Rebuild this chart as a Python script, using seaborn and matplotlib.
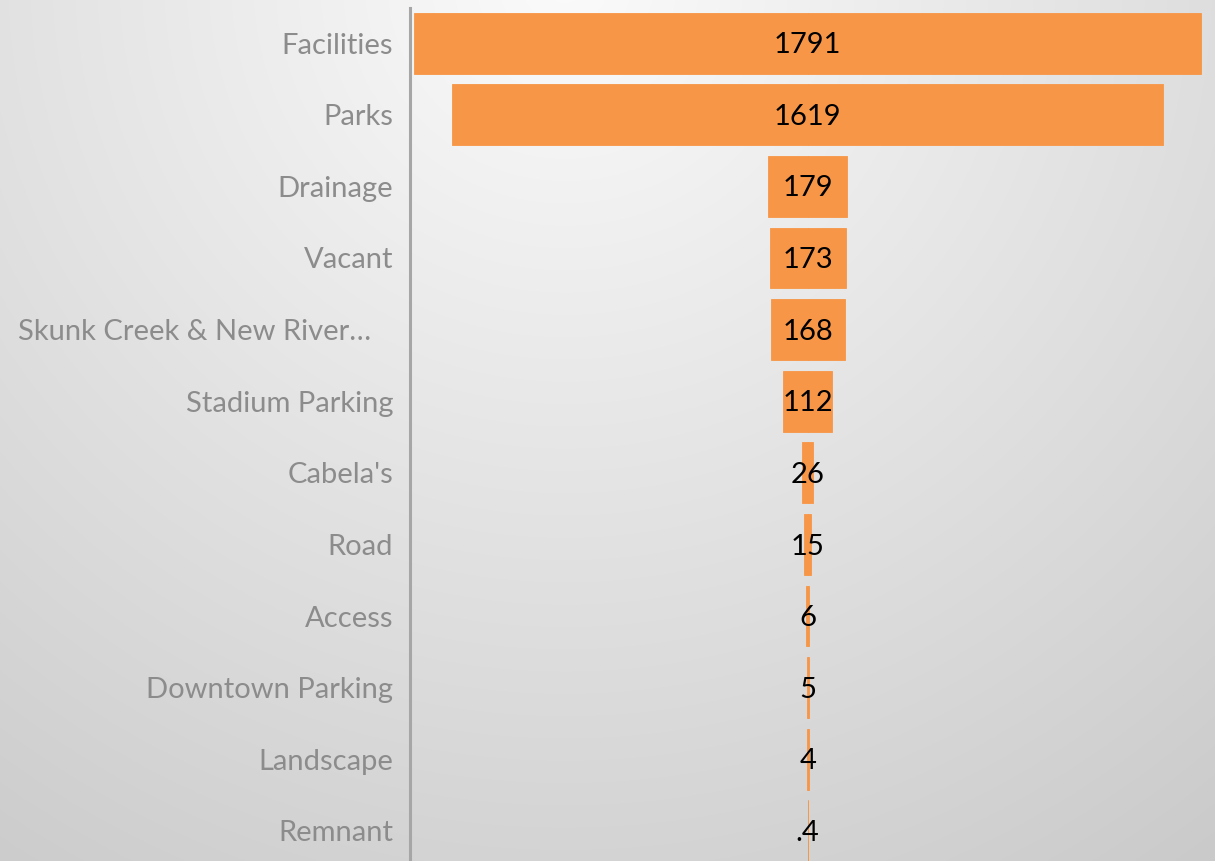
import numpy as np
import pandas as pd
import seaborn as sns
import matplotlib.pyplot as plt

# funnel data
categories = ["Facilities", "Parks", "Drainage", "Vacant", "Skunk Creek & New River\u2026   ",
              "Stadium Parking", "Cabela's", "Road", "Access", "Downtown Parking",
              "Landscape", "Remnant"]
values = [1791, 1619, 179, 173, 168, 112, 26, 15, 6, 5, 4, 0.4]
value_labels = ["1791", "1619", "179", "173", "168", "112", "26", "15", "6", "5", "4", ".4"]

df = pd.DataFrame({"cat": categories, "val": values})
df["half"] = df["val"] / 2
df["neg"] = -df["half"]

sns.set_style("white")
plt.rcParams['font.family'] = ['Lato', 'DejaVu Sans']

fig = plt.figure(figsize=(12.15, 8.61), dpi=100)

# gray radial gradient background
bg = fig.add_axes([0, 0, 1, 1], zorder=0)
W, H = 1215, 861
xx, yy = np.meshgrid(np.arange(W), np.arange(H))
d = np.sqrt((xx - 565) ** 2 + (yy + 20) ** 2)
g = (251 - 48 * (d / 1070) ** 1.0) / 255
bg.imshow(np.dstack([g, g, g]), aspect='auto', extent=[0, W, H, 0])
bg.axis('off')

ax = fig.add_axes([410 / W, 0, 805 / W, 853 / H], zorder=1)
ax.patch.set_alpha(0)

orange = "#f79646"
# two half bars around zero make the funnel
for col in ["half", "neg"]:
    sns.barplot(data=df, x=col, y="cat", color=orange, width=0.85,
                errorbar=None, saturation=1, edgecolor=orange, linewidth=0.6, ax=ax)

for i, lab in enumerate(value_labels):
    ax.text(0, i + 0.03, lab, ha='center', va='center', fontsize=21, color='black')

ax.set_xlim(-905, 927)
ax.set_ylim(11.42, -0.49)
ax.set_xlabel("")
ax.set_ylabel("")
ax.set_xticks([])
ax.tick_params(axis='y', length=0, pad=12, labelsize=21, labelcolor='#8c8c8c')

for s in ["top", "right", "bottom"]:
    ax.spines[s].set_visible(False)
ax.spines["left"].set_color("#a6a6a6")
ax.spines["left"].set_linewidth(2.2)

fig.savefig("out.png", dpi=100)
